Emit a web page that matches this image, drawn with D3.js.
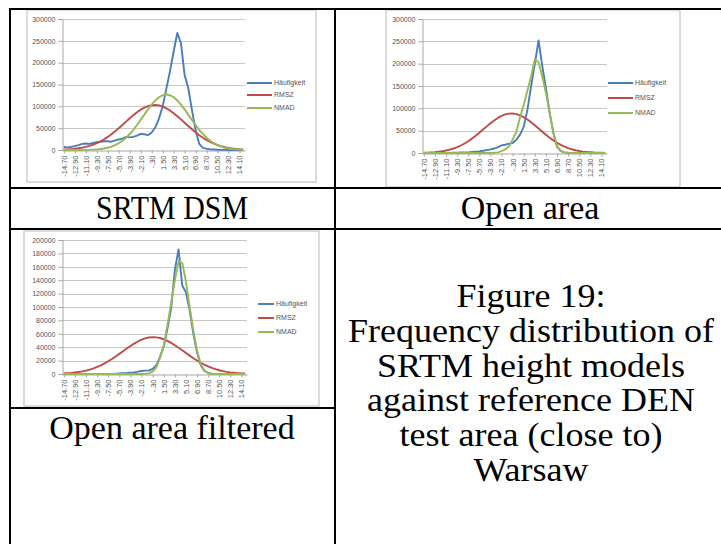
<!DOCTYPE html>
<html><head><meta charset="utf-8">
<script src="https://cdn.jsdelivr.net/npm/d3@7"></script>
<style>
html,body{margin:0;padding:0;background:#fff;}
svg{display:block;}
</style></head><body>
<svg id="fig" width="721" height="544"></svg>
<script>
// ---------- data ----------
const categories = ["-14.70","-14.10","-13.50","-12.90","-12.30","-11.70","-11.10","-10.50","-9.90","-9.30",
  "-8.70","-8.10","-7.50","-6.90","-6.30","-5.70","-5.10","-4.50","-3.90","-3.30",
  "-2.70","-2.10","-1.50","-.90","-.30",".30",".90","1.50","2.10","2.70",
  "3.30","3.90","4.50","5.10","5.70","6.30","6.90","7.50","8.10","8.70",
  "9.30","9.90","10.50","11.10","11.70","12.30","12.90","13.50","14.10","14.70"];
const seriesNames = ["Häufigkeit", "RMSZ", "NMAD"];

// SRTM DSM
const srtmHaeufigkeit = [7000,6000,7000,9000,11000,14000,15000,14000,16000,18000,
  19000,20000,20000,19000,22000,24000,26000,30000,29000,30000,
  33000,37000,36000,34000,40000,52000,72000,100000,140000,180000,
  225000,268000,245000,172000,142000,92000,45000,14000,5000,3000,
  1500,1000,500,300,200,100,100,0,0,0];
const srtmRMSZ = [1000,1450,2100,2900,4000,5400,7200,9500,12300,15700,
  19800,24500,30000,36000,42700,49900,57400,65000,72600,79800,
  86400,92300,97000,100400,102500,103000,102000,99400,95500,90400,
  84300,77400,70100,62500,54900,47400,40400,33900,28100,22900,
  18400,14500,11300,8700,6500,4900,3600,2600,1800,1300];
const srtmNMAD = [0,0,0,100,100,200,300,500,900,1400,
  2300,3500,5200,7700,11000,15500,21200,28100,36600,46200,
  57200,69000,81100,93000,104000,113500,120900,125400,127000,125400,
  120900,113500,104000,93000,81100,69000,57200,46200,36600,28100,
  21200,15500,11000,7700,5200,3500,2300,1400,900,500];

// Open area
const openHaeufigkeit = [0,0,0,0,0,100,200,300,400,500,
  1000,1000,1500,2200,3000,3700,5000,6500,8000,10000,
  13000,17000,18500,21000,22000,30000,41000,59000,97000,150000,
  200000,252000,195000,145000,90000,45000,14000,4000,1500,500,
  200,100,0,0,0,0,0,0,0,0];
const openRMSZ = [600,900,1400,2000,2800,4000,5500,7500,10000,13100,
  16800,21200,26400,32200,38600,45400,52500,59600,66500,72900,
  78500,83100,86400,88100,88400,87100,84300,80200,74900,68700,
  61900,54900,47700,40800,34300,28300,22900,18200,14300,11000,
  8300,6100,4500,3200,2200,1600,1000,700,500,300];
const openNMAD = [0,0,0,0,0,0,0,0,0,0,
  0,0,0,0,0,0,0,0,100,500,
  1500,4000,8000,15000,30000,48000,80000,108000,140000,172000,
  210000,203000,172000,134000,90000,46000,16000,5000,1500,500,
  100,0,0,0,0,0,0,0,0,0];

// Open area filtered
const filtHaeufigkeit = [0,0,0,0,0,0,0,0,0,0,
  0,0,100,200,500,1000,1200,1500,2000,2500,
  3500,4500,5000,5000,7500,13000,26000,41000,68000,98000,
  155000,186000,132000,122000,95000,60000,32000,13000,4500,1500,
  500,0,0,0,0,0,0,0,0,0];
const filtRMSZ = [820,1150,1600,2200,2900,3900,5100,6600,8400,10500,
  13000,15800,19000,22400,26100,30000,34000,38000,41800,45400,
  48500,51200,53200,54500,55000,54700,53700,51900,49500,46500,
  43000,39300,35400,31400,27400,23600,20100,16800,13900,11300,
  9000,7200,5600,4300,3200,2400,1800,1300,900,650];
const filtNMAD = [0,0,0,0,0,0,0,0,0,0,
  0,0,0,0,0,0,0,0,0,0,
  0,0,300,1000,3500,10000,24000,43000,73000,106000,
  140000,168000,166000,138000,100000,65000,35000,15000,5000,1500,
  400,0,0,0,0,0,0,0,0,0];

const yTicksLarge = [0,50000,100000,150000,200000,250000,300000];
const yTicksSmall = [0,20000,40000,60000,80000,100000,120000,140000,160000,180000,200000];

const cellLabels = ["SRTM DSM", "Open area", "Open area filtered"];
const captionLines = ["Figure 19:", "Frequency distribution of", "SRTM height models",
  "against reference DEN", "test area (close to)", "Warsaw"];

// ---------- drawing ----------
const svg = d3.select("#fig");
const colors = ["#4a7ebb", "#be4b48", "#98b954"];
const chartFont = "'Liberation Sans', Arial, sans-serif";
const serif = "'Liberation Serif', 'Times New Roman', serif";

function drawChart(cfg, seriesList, yTicks) {
  const g = svg.append("g");
  g.append("rect")
    .attr("x", cfg.box[0]).attr("y", cfg.box[1])
    .attr("width", cfg.box[2]).attr("height", cfg.box[3])
    .attr("fill", "#fff").attr("stroke", "#d0d0d0").attr("stroke-width", 1.5);

  const x = d3.scalePoint().domain(categories)
    .range([cfg.plot[0], cfg.plot[1]]).padding(0.5);
  const y = d3.scaleLinear().domain([0, yTicks[yTicks.length - 1]])
    .range([cfg.plot[3], cfg.plot[2]]);

  g.append("g").selectAll("line").data(yTicks.slice(1)).join("line")
    .attr("x1", cfg.plot[0]).attr("x2", cfg.plot[1])
    .attr("y1", d => Math.round(y(d)) + 0.5).attr("y2", d => Math.round(y(d)) + 0.5)
    .attr("stroke", "#c8c8c8").attr("stroke-width", 1);

  const ya = g.append("g").attr("transform", `translate(${cfg.plot[0] + 0.5},0)`)
    .call(d3.axisLeft(y).tickValues(yTicks).tickSize(4).tickPadding(3).tickFormat(d3.format("d")));
  ya.select(".domain").attr("stroke", "#a6a6a6");
  ya.selectAll(".tick line").attr("stroke", "#a6a6a6");
  ya.selectAll("text").attr("font-family", chartFont).attr("font-size", 7).attr("fill", "#555");

  const labelled = categories.filter((c, i) => i % 3 === 0);
  const xa = g.append("g").attr("transform", `translate(0,${Math.round(cfg.plot[3]) + 0.5})`)
    .call(d3.axisBottom(x).tickValues(labelled).tickSize(3).tickSizeOuter(0));
  xa.select(".domain").attr("stroke", "#a6a6a6");
  xa.selectAll(".tick line").attr("stroke", "#a6a6a6");
  xa.selectAll("text")
    .attr("font-family", chartFont).attr("font-size", 7.5).attr("fill", "#555")
    .attr("text-anchor", "end").attr("dy", "0.32em")
    .attr("transform", "translate(0,1) rotate(-90)")
    .attr("x", -4).attr("y", 0);

  const line = d3.line().x((d, i) => x(categories[i])).y(d => y(d));
  seriesList.forEach((vals, k) => {
    g.append("path").datum(vals)
      .attr("d", line).attr("fill", "none")
      .attr("stroke", colors[k]).attr("stroke-width", 1.9)
      .attr("stroke-linejoin", "round");
  });

  seriesNames.forEach((name, k) => {
    const ly = cfg.legend.y[k];
    g.append("line").attr("x1", cfg.legend.x1).attr("x2", cfg.legend.x2)
      .attr("y1", ly).attr("y2", ly)
      .attr("stroke", colors[k]).attr("stroke-width", 2);
    g.append("text").attr("x", cfg.legend.tx).attr("y", ly).attr("dy", "0.35em")
      .attr("font-family", chartFont).attr("font-size", 7).attr("fill", "#555")
      .text(name);
  });
}

drawChart({box: [27, 10, 289, 172], plot: [62, 245, 19, 150],
           legend: {x1: 247, x2: 272, tx: 274, y: [83, 95, 108]}},
          [srtmHaeufigkeit, srtmRMSZ, srtmNMAD], yTicksLarge);
drawChart({box: [386, 10, 294, 177], plot: [422, 607, 19, 153],
           legend: {x1: 608, x2: 633, tx: 635, y: [83, 98, 113]}},
          [openHaeufigkeit, openRMSZ, openNMAD], yTicksLarge);
drawChart({box: [24, 231, 295, 175], plot: [62, 247, 240, 374],
           legend: {x1: 258, x2: 274, tx: 276, y: [304, 318, 332]}},
          [filtHaeufigkeit, filtRMSZ, filtNMAD], yTicksSmall);

const tbl = svg.append("g").attr("stroke", "#000").attr("stroke-width", 2);
[[10, 9, 721, 9], [10, 188, 721, 188], [10, 229, 721, 229], [10, 408, 335, 408],
 [10, 8, 10, 544], [335, 8, 335, 544]].forEach(s => {
  tbl.append("line").attr("x1", s[0]).attr("y1", s[1]).attr("x2", s[2]).attr("y2", s[3]);
});

// cell labels (first one is set a little narrower, as in the reference)
const labelPos = [[172, 219], [530, 219], [172, 439]];
const labelScale = [0.88, 1, 1];
cellLabels.forEach((t, i) => {
  svg.append("g")
    .attr("transform", `translate(${labelPos[i][0]},${labelPos[i][1]}) scale(${labelScale[i]},1)`)
    .append("text").attr("x", 0).attr("y", 0)
    .attr("text-anchor", "middle").attr("font-family", serif)
    .attr("font-size", 34).attr("fill", "#000").text(t);
});

// caption: glyphs in the reference are a little wider than Liberation Serif at this size
const cap = svg.append("g").attr("transform", "translate(531,0) scale(1.075,1)");
captionLines.forEach((t, i) => {
  cap.append("text").attr("x", 0).attr("y", 307 + i * 34.8)
    .attr("text-anchor", "middle").attr("font-family", serif)
    .attr("font-size", 33.5).attr("fill", "#000").text(t);
});
</script>
</body></html>
